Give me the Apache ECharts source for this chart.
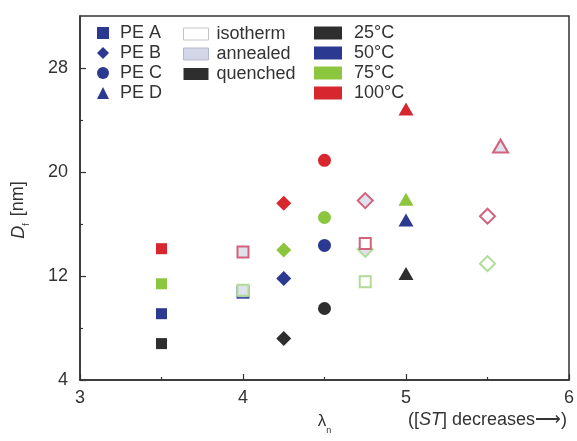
<!DOCTYPE html>
<html><head><meta charset="utf-8">
<script src="https://cdn.jsdelivr.net/npm/echarts@6/dist/echarts.min.js"></script>
<style>html,body{margin:0;padding:0;background:#fff}#c{width:577px;height:441px}</style>
</head><body><div id="c"></div>
<script>
// ---- data ----
const grades = ['PE A', 'PE B', 'PE C', 'PE D'];
const treatments = ['isotherm', 'annealed', 'quenched'];
const temps = ['25°C', '50°C', '75°C', '100°C'];
const xTicks = [3, 4, 5, 6];
const yTicks = [4, 12, 20, 28];

// quenched (solid markers), one value per grade PE A..D
const quenchedLambda = [3.5, 4.25, 4.5, 5.0];
const quenched25 = [6.8, 7.2, 9.5, 12.2];
const quenched50 = [9.1, 11.8, 14.35, 16.3];
const quenched75 = [11.4, 14.0, 16.5, 17.9];
const quenched100 = [14.1, 17.6, 20.9, 24.85];

// annealed (light filled markers)
const annealedGrade = ['PE A', 'PE A', 'PE A', 'PE B', 'PE B', 'PE D'];
const annealedTemp = ['50°C', '75°C', '100°C', '75°C', '100°C', '100°C'];
const annealedLambda = [4.0, 4.0, 4.0, 4.75, 4.75, 5.58];
const annealedD = [10.75, 10.9, 13.85, 14.05, 17.8, 22.0];

// isotherm (open markers)
const isothermGrade = ['PE A', 'PE A', 'PE B', 'PE B'];
const isothermTemp = ['75°C', '100°C', '75°C', '100°C'];
const isothermLambda = [4.75, 4.75, 5.5, 5.5];
const isothermD = [11.55, 14.5, 12.95, 16.6];

// ---- styles ----
const solidColor = {'25°C': '#2e2e2e', '50°C': '#2b3990', '75°C': '#8cc63f', '100°C': '#d7262e'};
const lineColor = {'25°C': '#555555', '50°C': '#4452a8', '75°C': '#b0dc96', '100°C': '#d3627c'};
const gradeSymbol = {'PE A': 'rect', 'PE B': 'diamond', 'PE C': 'circle', 'PE D': 'triangle'};
const gradeSize = {'PE A': 11, 'PE B': 15, 'PE C': 13, 'PE D': [15, 13]};
const annealFill = '#dfe1ec';
const textColor = '#333';
const FONT = 'Liberation Sans, Arial, sans-serif';
const FS = 18;

const series = [];
// quenched
const quenchedByTemp = [quenched25, quenched50, quenched75, quenched100];
grades.forEach((g, gi) => {
  series.push({
    type: 'scatter', name: 'q-' + g, silent: true,
    symbol: gradeSymbol[g], symbolSize: gradeSize[g],
    data: temps.map((t, ti) => ({
      value: [quenchedLambda[gi], quenchedByTemp[ti][gi]],
      itemStyle: {color: solidColor[t], opacity: 1}
    }))
  });
});
// annealed
annealedD.forEach((d, i) => {
  const g = annealedGrade[i], t = annealedTemp[i];
  series.push({
    type: 'scatter', name: 'a-' + i, silent: true,
    symbol: gradeSymbol[g], symbolSize: gradeSize[g],
    data: [{value: [annealedLambda[i], d],
      itemStyle: {color: annealFill, borderColor: lineColor[t], borderWidth: 2, opacity: 1}}]
  });
});
// isotherm
isothermD.forEach((d, i) => {
  const g = isothermGrade[i], t = isothermTemp[i];
  series.push({
    type: 'scatter', name: 'i-' + i, silent: true,
    symbol: gradeSymbol[g], symbolSize: gradeSize[g],
    data: [{value: [isothermLambda[i], d],
      itemStyle: {color: '#ffffff', borderColor: lineColor[t], borderWidth: 2, opacity: 1}}]
  });
});
// legend-only series
grades.forEach(g => series.push({type: 'scatter', name: g, symbol: gradeSymbol[g], data: [], itemStyle: {color: '#2b3990', opacity: 1}}));
treatments.forEach(t => series.push({type: 'scatter', name: t, symbol: 'rect', data: [], itemStyle: {color: '#fff', opacity: 1}}));
temps.forEach(t => series.push({type: 'scatter', name: t, symbol: 'rect', data: [], itemStyle: {color: solidColor[t], opacity: 1}}));

const legendText = (pad) => ({fontSize: FS, color: textColor, fontFamily: FONT, lineHeight: 17, padding: [0, 0, 0, pad]});

const option = {
  animation: false,
  textStyle: {fontFamily: FONT},
  grid: {left: 80, right: 4, top: 16, bottom: 61, show: true, borderColor: '#333', borderWidth: 1.5, backgroundColor: 'transparent'},
  title: {
    text: '([{i|ST}] decreases⟶)', left: 408, top: 411, padding: 0,
    textStyle: {fontSize: FS, fontWeight: 'normal', color: textColor, fontFamily: FONT,
      rich: {i: {fontStyle: 'italic', fontSize: FS, color: textColor, fontFamily: FONT}}}
  },
  legend: [
    {orient: 'vertical', left: 97, top: 24, padding: 0, itemWidth: 12, itemHeight: 12, itemGap: 2, selectedMode: false,
      data: grades, textStyle: legendText(6)},
    {orient: 'vertical', left: 183, top: 25, padding: 0, itemWidth: 25, itemHeight: 12, itemGap: 2, selectedMode: false,
      data: [
        {name: treatments[0], icon: 'rect', itemStyle: {color: '#ffffff', borderColor: '#c4c4c4', borderWidth: 1}},
        {name: treatments[1], icon: 'rect', itemStyle: {color: '#d3d6e6', borderColor: '#b4b8cc', borderWidth: 1}},
        {name: treatments[2], icon: 'rect', itemStyle: {color: '#2e2e2e'}}
      ], textStyle: legendText(3)},
    {orient: 'vertical', left: 314, top: 24, padding: 0, itemWidth: 28, itemHeight: 13, itemGap: 2, selectedMode: false,
      data: temps.map(t => ({name: t, icon: 'rect'})), textStyle: legendText(7)}
  ],
  xAxis: [{
    type: 'value', min: 3, max: 6, interval: 1,
    name: '{l|λ}{s|n}', nameLocation: 'middle', nameGap: 32,
    nameTextStyle: {rich: {
      l: {fontSize: 17, color: textColor, fontFamily: FONT, lineHeight: 18, verticalAlign: 'bottom'},
      s: {fontSize: 9, color: textColor, fontFamily: FONT, lineHeight: 18, verticalAlign: 'bottom', padding: [0, 0, -5, 0]}
    }},
    axisLine: {show: true, lineStyle: {color: '#333', width: 1.5}},
    axisTick: {show: true, inside: true, length: 6, lineStyle: {color: '#333', width: 1.2}},
    minorTick: {show: true, splitNumber: 2, length: 3, lineStyle: {color: '#333', width: 1.2}},
    axisLabel: {fontSize: FS, color: textColor, margin: 9, customValues: xTicks},
    splitLine: {show: false}, minorSplitLine: {show: false}
  }],
  yAxis: [{
    type: 'value', min: 4, max: 32, interval: 4,
    name: '{d|D}{s|f} [nm]', nameLocation: 'middle', nameGap: 52, nameRotate: 90,
    nameTextStyle: {fontSize: FS, color: textColor, fontFamily: FONT, padding: [0, 24, 0, 0], rich: {
      d: {fontSize: FS, fontStyle: 'italic', color: textColor, fontFamily: FONT, lineHeight: 20, verticalAlign: 'bottom'},
      s: {fontSize: 9, color: textColor, fontFamily: FONT, lineHeight: 20, verticalAlign: 'bottom', padding: [0, 2, -3, 0]}
    }},
    axisLine: {show: true, lineStyle: {color: '#333', width: 1.5}},
    axisTick: {show: true, inside: true, length: 6, customValues: yTicks, lineStyle: {color: '#333', width: 1.2}},
    axisLabel: {fontSize: FS, color: textColor, margin: 12, customValues: yTicks},
    splitLine: {show: false}
  }, {
    type: 'value', min: 4, max: 32, position: 'left', interval: 4,
    axisLine: {show: false},
    axisTick: {show: true, inside: true, length: 3, customValues: [8, 16, 24], lineStyle: {color: '#333', width: 1.2}},
    axisLabel: {show: false}, splitLine: {show: false}
  }],
  series: series
};
echarts.init(document.getElementById('c'), null, {renderer: 'canvas'}).setOption(option);
</script></body></html>
